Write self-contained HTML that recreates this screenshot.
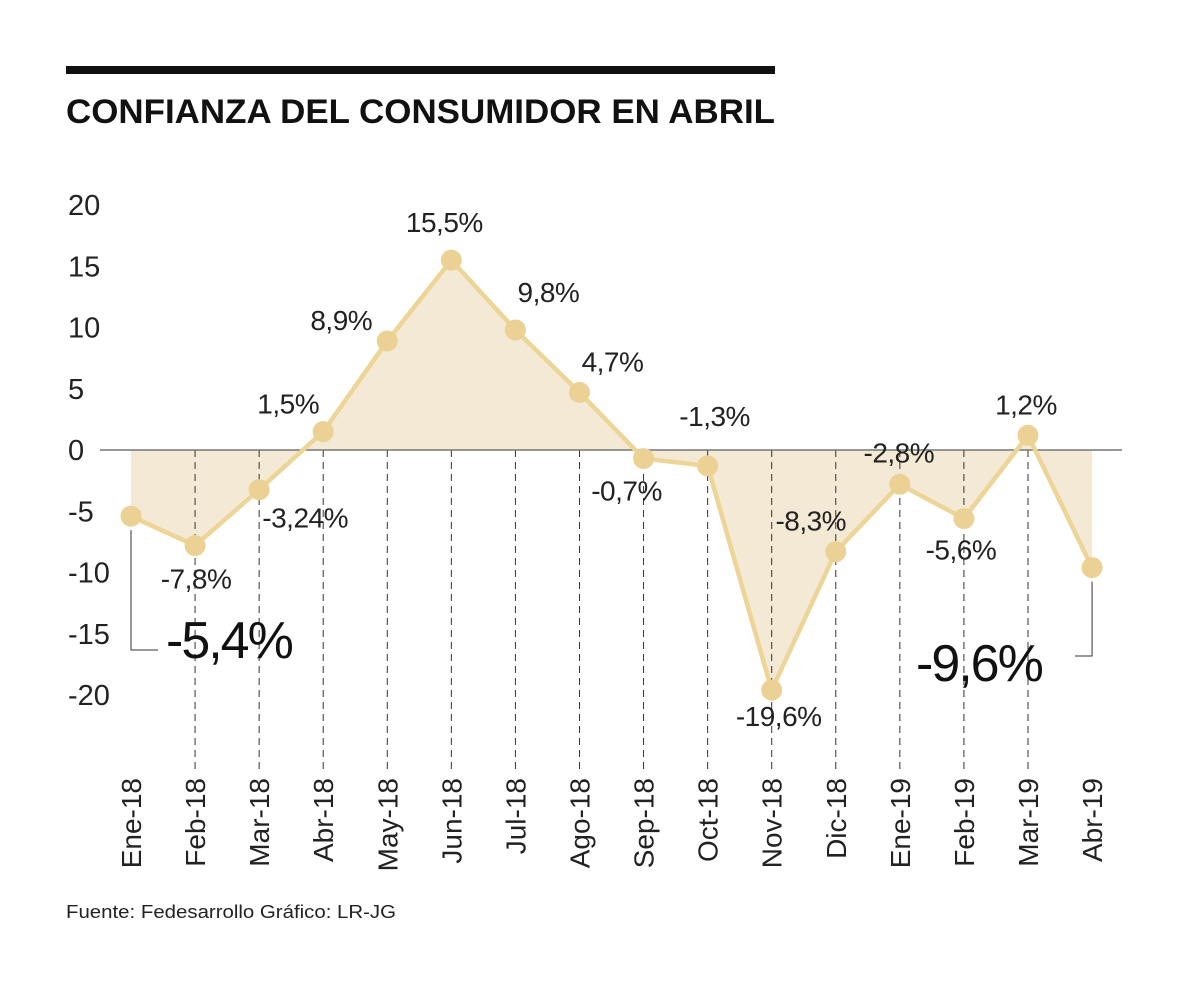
<!DOCTYPE html>
<html><head><meta charset="utf-8"><style>
html,body{margin:0;padding:0;background:#fff;}
svg{display:block;font-family:"Liberation Sans",sans-serif;}
</style></head><body>
<svg id="chart" width="1200" height="983" viewBox="0 0 1200 983">
<rect x="66" y="66" width="709" height="8" fill="#111"/>
<text x="66" y="123" font-size="34" font-weight="bold" fill="#111" textLength="709" lengthAdjust="spacingAndGlyphs">CONFIANZA DEL CONSUMIDOR EN ABRIL</text>
<text x="66" y="918" font-size="18" fill="#222" textLength="330" lengthAdjust="spacingAndGlyphs">Fuente: Fedesarrollo Gráfico: LR-JG</text>
<g id="plot"></g>
</svg>
<script>
const categories=["Ene-18","Feb-18","Mar-18","Abr-18","May-18","Jun-18","Jul-18","Ago-18","Sep-18","Oct-18","Nov-18","Dic-18","Ene-19","Feb-19","Mar-19","Abr-19"];
const values=[-5.4,-7.8,-3.24,1.5,8.9,15.5,9.8,4.7,-0.7,-1.3,-19.6,-8.3,-2.8,-5.6,1.2,-9.6];
const valueLabels=["-5,4%","-7,8%","-3,24%","1,5%","8,9%","15,5%","9,8%","4,7%","-0,7%","-1,3%","-19,6%","-8,3%","-2,8%","-5,6%","1,2%","-9,6%"];
const yTicks=[20,15,10,5,0,-5,-10,-15,-20];
</script>
<script>
const NS="http://www.w3.org/2000/svg";
const g=document.getElementById('plot');
const x=i=>131+i*64.07;
const y=v=>450-v*12.25;
function mk(t,a){const e=document.createElementNS(NS,t);for(const k in a)e.setAttribute(k,a[k]);g.appendChild(e);return e;}
yTicks.forEach(t=>{const e=mk('text',{x:68,y:y(t)+10,'font-size':29,fill:'#222'});e.textContent=String(t);

});
let n=values.length;
let d=`M${x(0)},${y(0)} `+values.map((v,i)=>`L${x(i)},${y(v)}`).join(' ')+` L${x(n-1)},${y(0)} Z`;
let ar=mk('path',{d:d,fill:'#f4e9d4'});


for(let i=1;i<n-1;i++){let l=mk('line',{x1:x(i),x2:x(i),y1:y(0),y2:772,stroke:'#333','stroke-width':1,'stroke-dasharray':'7,5'});

}
let z=mk('line',{x1:100,x2:1122,y1:y(0),y2:y(0),stroke:'#777','stroke-width':1.5});


let c1=mk('polyline',{points:`${x(0)},${y(values[0])+14} ${x(0)},650 158,650`,fill:'none',stroke:'#333','stroke-width':1});


let c2=mk('polyline',{points:`${x(n-1)},${y(values[n-1])+14} ${x(n-1)},656 1075,656`,fill:'none',stroke:'#333','stroke-width':1});


let ln=mk('polyline',{points:values.map((v,i)=>`${x(i)},${y(v)}`).join(' '),fill:'none',stroke:'#ecd597','stroke-width':4.5,'stroke-linejoin':'round'});


const off=[[0,0],[1,33],[46,28],[-35,-28],[-46,-21],[-7,-38],[33,-38],[33,-31],[-17,32],[7,-50],[7,26],[-25,-31],[-1,-32],[-3,31],[-2,-31],[0,0]];
values.forEach((v,i)=>{
 let p=mk('circle',{cx:x(i),cy:y(v),r:10.5,fill:'#ebd193'});
 
 
 if(i>0&&i<n-1){
  let t=mk('text',{x:x(i)+off[i][0],y:y(v)+off[i][1]+10,'font-size':28,'text-anchor':'middle',fill:'#222','letter-spacing':'-0.5'});
  t.textContent=valueLabels[i];
  
  
 }
});
let b1=mk('text',{x:166,y:658,'font-size':52,fill:'#111','letter-spacing':'-2'});b1.textContent=valueLabels[0];


let b2=mk('text',{x:916,y:681,'font-size':52,fill:'#111','letter-spacing':'-2'});b2.textContent=valueLabels[n-1];


categories.forEach((c,i)=>{
 let t=mk('text',{x:0,y:0,'font-size':28,'text-anchor':'end',fill:'#222',transform:`translate(${x(i)+10},778) rotate(-90)`});
 t.textContent=c;
 
 
});
</script>
</body></html>
